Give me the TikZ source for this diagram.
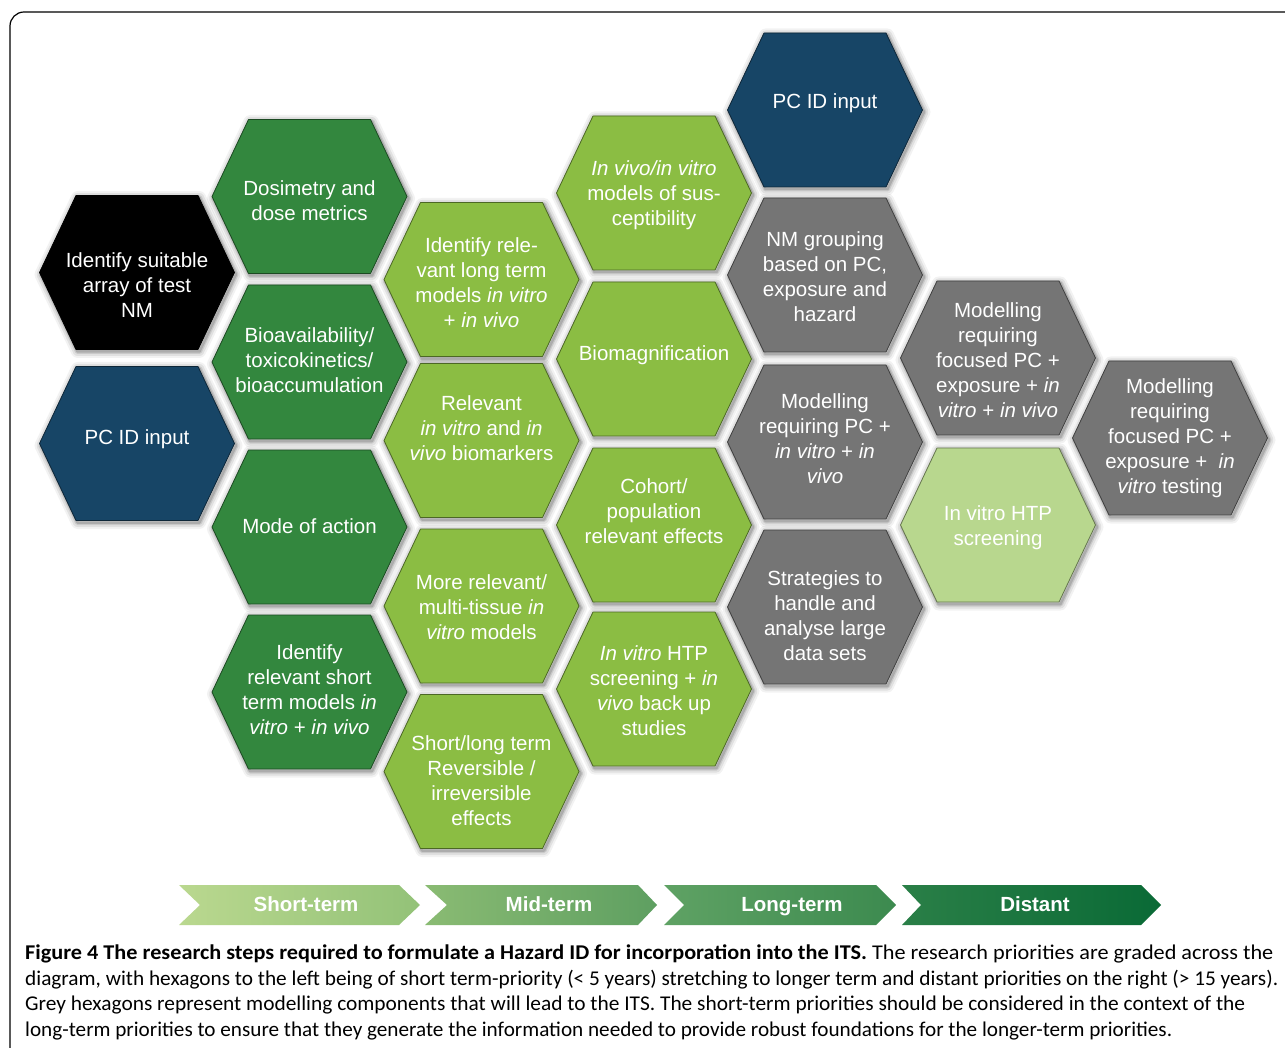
\documentclass[tikz,border=0pt]{standalone}
\usepackage{graphicx}
\usepackage{fontspec}
\setmainfont{Liberation Sans}
\newfontfamily\capfont{Carlito}
\definecolor{dkgreen}{HTML}{33873E}
\definecolor{ltgreen}{HTML}{8BBD43}
\definecolor{paleg}{HTML}{B8D78E}
\definecolor{hgrey}{HTML}{757575}
\definecolor{navy}{HTML}{174566}
\definecolor{hblack}{HTML}{000000}
\definecolor{ba}{HTML}{BAD88F}\definecolor{bb}{HTML}{93C278}
\definecolor{bc}{HTML}{8ABB73}\definecolor{bd}{HTML}{5E9F61}
\definecolor{be}{HTML}{5FA264}\definecolor{bf}{HTML}{3C8A4F}
\definecolor{bg}{HTML}{2A7F47}\definecolor{bh}{HTML}{0A6A36}
\newcommand\hexshadow[2]{%
  \foreach \w/\o in {13/0.05,9/0.07,5/0.10,2.5/0.14}{%
    \draw[line width=\w pt, black, opacity=\o, line join=round, shift={(1.5,2)}]
      ({#1-97.5},#2) -- ({#1-61},{#2-77}) -- ({#1+61},{#2-77}) -- ({#1+97.5},#2)
      -- ({#1+61},{#2+77}) -- ({#1-61},{#2+77}) -- cycle;}}
\newcommand\hexfill[6]{%
  \filldraw[fill=#4, draw=#4!55!black, line width=0.8pt, line join=round]
      ({#2-97.5},#3) -- ({#2-61},{#3-77}) -- ({#2+61},{#3-77}) -- ({#2+97.5},#3)
      -- ({#2+61},{#3+77}) -- ({#2-61},{#3+77}) -- cycle;
  \node[hextext] (#1) at (#2,#5) {#6};}
\newcommand\banner[9]{%
  \path[left color=#6, right color=#7]
    (#2,885) -- (#4,885) -- (#5,905) -- (#4,925) -- (#2,925) -- (#3,905) -- cycle;
  \node[bantext] (#1) at (#8,911.5) {#9};}
\begin{document}
\begin{tikzpicture}[x=1pt,y=-1pt,
  hextext/.style={text=white, align=center, inner sep=0pt, yshift=-2pt,
    font=\fontsize{20.5}{25}\selectfont},
  bantext/.style={text=white, inner sep=0pt, anchor=base,
    font=\fontsize{20.5}{25}\selectfont\bfseries},
  captext/.style={anchor=base west, inner sep=0pt,
    font=\capfont\fontsize{21}{26}\selectfont}]
\useasboundingbox (0,0) rectangle (1285,1048);
\clip (0,0) rectangle (1285,1048);
\fill[white] (0,0) rectangle (1285,1048);
\draw[rounded corners=14pt, line width=1.2pt] (10,12) rectangle (1320,1080);
% shadows
\hexshadow{137}{272.5}\hexshadow{137}{443.5}
\hexshadow{309.5}{196.5}\hexshadow{309.5}{362}\hexshadow{309.5}{527}\hexshadow{309.5}{692}
\hexshadow{481.5}{279.5}\hexshadow{481.5}{440.5}\hexshadow{481.5}{606}\hexshadow{481.5}{771.5}
\hexshadow{654}{193}\hexshadow{654}{359}\hexshadow{654}{525}\hexshadow{654}{689}
\hexshadow{825}{110}\hexshadow{825}{275}\hexshadow{825}{442}\hexshadow{825}{607}
\hexshadow{998}{358}\hexshadow{998}{525}\hexshadow{1170}{438}
% hexagons
\hexfill{a}{137}{272.5}{hblack}{283}{Identify suitable\\array of test\\NM}
\hexfill{b}{137}{443.5}{navy}{437}{PC ID input}
\hexfill{c}{309.5}{196.5}{dkgreen}{198.5}{Dosimetry and\\dose metrics}
\hexfill{d}{309.5}{362}{dkgreen}{358}{Bioavailability/\\toxicokinetics/\\bioaccumulation}
\hexfill{e}{309.5}{527}{dkgreen}{524}{Mode of action}
\hexfill{f}{309.5}{692}{dkgreen}{687.5}{Identify\\relevant short\\term models \textit{in}\\\textit{vitro} + \textit{in vivo}}
\hexfill{g}{481.5}{279.5}{ltgreen}{280.5}{Identify rele-\\vant long term\\models \textit{in vitro}\\+ \textit{in vivo}}
\hexfill{h}{481.5}{440.5}{ltgreen}{426}{Relevant\\\textit{in vitro} and \textit{in}\\\textit{vivo} biomarkers}
\hexfill{i}{481.5}{606}{ltgreen}{605}{More relevant/\\multi-tissue \textit{in}\\\textit{vitro} models}
\hexfill{j}{481.5}{771.5}{ltgreen}{778.5}{Short/long term\\Reversible /\\irreversible\\effects}
\hexfill{k}{654}{193}{ltgreen}{193}{\textit{In vivo/in vitro}\\models of sus-\\ceptibility}
\hexfill{l}{654}{359}{ltgreen}{353}{Biomagnification}
\hexfill{m}{654}{525}{ltgreen}{509}{Cohort/\\population\\relevant effects}
\hexfill{n}{654}{689}{ltgreen}{689}{\textit{In vitro} HTP\\screening + \textit{in}\\\textit{vivo} back up\\studies}
\hexfill{o}{825}{110}{navy}{101}{PC ID input}
\hexfill{p}{825}{275}{hgrey}{274.5}{NM grouping\\based on PC,\\exposure and\\hazard}
\hexfill{q}{825}{442}{hgrey}{436.5}{Modelling\\requiring PC +\\\textit{in vitro} + \textit{in}\\\textit{vivo}}
\hexfill{r}{825}{607}{hgrey}{613.5}{Strategies to\\handle and\\analyse large\\data sets}
\hexfill{s}{998}{358}{hgrey}{358}{Modelling\\requiring\\focused PC +\\exposure + \textit{in}\\\textit{vitro} + \textit{in vivo}}
\hexfill{t}{998}{525}{paleg}{525.5}{In vitro HTP\\screening}
\hexfill{u}{1170}{438}{hgrey}{436}{Modelling\\requiring\\focused PC +\\exposure + \ \textit{in}\\\textit{vitro} testing}
% banners
\banner{s1}{179}{200}{399}{420}{ba}{bb}{306}{Short-term}
\banner{s2}{425}{447}{638}{657}{bc}{bd}{549}{Mid-term}
\banner{s3}{664}{684}{876}{896}{be}{bf}{792}{Long-term}
\banner{s4}{902}{921}{1141}{1161}{bg}{bh}{1035}{Distant}
% caption
\node[captext] (c1) at (25,959) {\resizebox{1248pt}{\height}{\textbf{Figure 4 The research steps required to formulate a Hazard ID for incorporation into the ITS.} The research priorities are graded across the}};
\node[captext] (c2) at (25,985) {\resizebox{1253pt}{\height}{diagram, with hexagons to the left being of short term-priority (< 5 years) stretching to longer term and distant priorities on the right (> 15 years).}};
\node[captext] (c3) at (25,1010.5) {\resizebox{1220pt}{\height}{Grey hexagons represent modelling components that will lead to the ITS. The short-term priorities should be considered in the context of the}};
\node[captext] (c4) at (25,1036) {\resizebox{1147pt}{\height}{long-term priorities to ensure that they generate the information needed to provide robust foundations for the longer-term priorities.}};
\end{tikzpicture}
\end{document}
